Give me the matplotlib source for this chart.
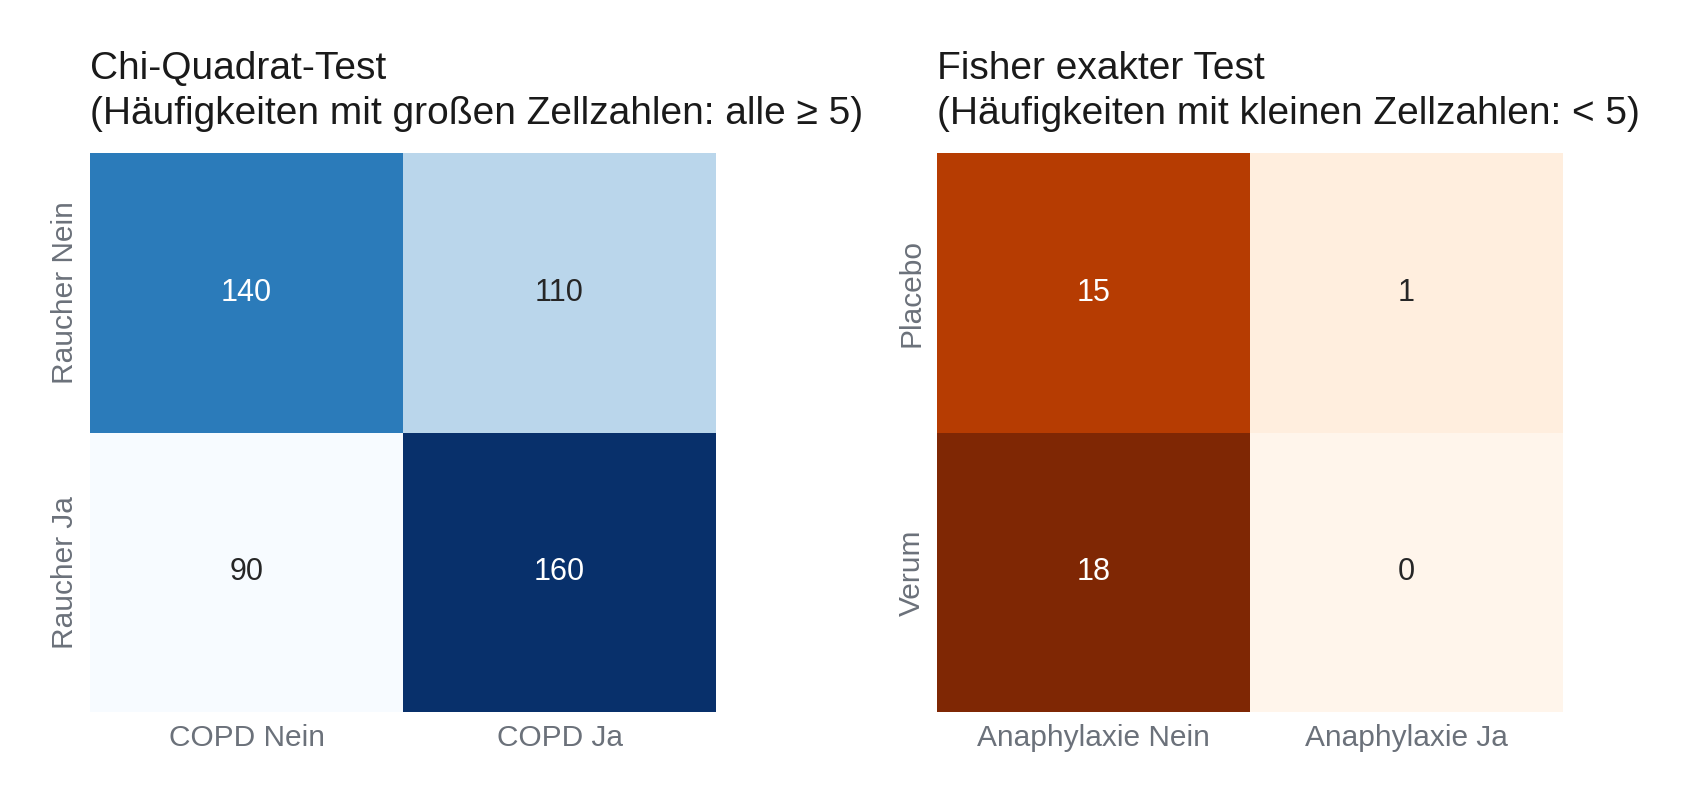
import numpy as np
import matplotlib
matplotlib.use("Agg")
import matplotlib.pyplot as plt
import seaborn as sns

plt.rcParams['font.family'] = ['Liberation Sans', 'DejaVu Sans']

# Data
left_rows = ["Raucher Nein", "Raucher Ja"]
left_cols = ["COPD Nein", "COPD Ja"]
left_vals = [[140, 110], [90, 160]]
left_title = "Chi-Quadrat-Test\n(Häufigkeiten mit großen Zellzahlen: alle ≥ 5)"

right_rows = ["Placebo", "Verum"]
right_cols = ["Anaphylaxie Nein", "Anaphylaxie Ja"]
right_vals = [[15, 1], [18, 0]]
right_title = "Fisher exakter Test\n(Häufigkeiten mit kleinen Zellzahlen: < 5)"

fig = plt.figure(figsize=(16.88, 8.02), dpi=100)
ax1 = fig.add_axes([90/1688, 1-712/802, 626/1688, 559/802])
ax2 = fig.add_axes([937/1688, 1-712/802, 626/1688, 559/802])

tick_color = "#6b717a"
for ax, vals, rows, cols, cmap, title in [
    (ax1, left_vals, left_rows, left_cols, "Blues", left_title),
    (ax2, right_vals, right_rows, right_cols, "Oranges", right_title),
]:
    sns.heatmap(np.array(vals), ax=ax, cmap=cmap, annot=True, fmt="d", cbar=False,
                xticklabels=cols, yticklabels=rows,
                annot_kws={"fontsize": 22})
    ax.set_title(title, loc="left", fontsize=28, color="#1a1a1a", pad=21, linespacing=1.32)
    ax.tick_params(axis="both", length=0, labelsize=21.5, colors=tick_color)
    ax.tick_params(axis="x", pad=9)
    ax.tick_params(axis="y", pad=8)
    for lab in ax.get_yticklabels():
        lab.set_rotation(90)
        lab.set_va("center")
    for lab in ax.get_xticklabels():
        lab.set_rotation(0)

fig.savefig("out.png", dpi=100, facecolor="white")
